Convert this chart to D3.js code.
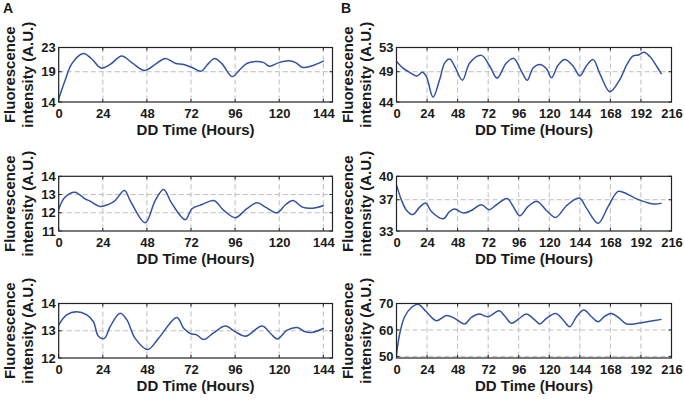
<!DOCTYPE html>
<html><head><meta charset="utf-8">
<script src="https://cdn.jsdelivr.net/npm/d3@7"></script>
<style>html,body{margin:0;padding:0;background:#fff}svg{display:block}</style>
</head><body>
<svg id="c" width="685" height="403"></svg>
<script>
// ---- data ----
const hoursA1 = [0,3.4,7.1,13.4,18,23.1,28,34.3,39.8,46.7,52.5,58,63.4,68,72.5,77.6,81.3,84.9,88.9,94.4,98.9,102.6,108,111.6,114.7,119.8,125.3,128.9,132.9,138,144.3];
const valuesA1 = [14.5,17.5,20.3,22.0,21.1,19.6,20.2,21.6,20.5,19.2,20.2,21.2,20.4,20.2,19.7,19.1,20.3,21.2,20.3,18.2,19.45,20.4,20.7,20.5,19.9,20.5,20.8,20.5,19.7,20.0,20.8];

const hoursA2 = [0,3.4,8.9,14.3,17.1,22.5,28,30.7,35.8,38.9,47.1,52.5,57.1,61.6,68.9,72.5,78,84.4,89.8,96.2,101.6,108,112.5,118.9,123.4,127.5,132.6,138,144.3];
const valuesA2 = [12.2,12.85,13.13,12.76,12.64,12.35,12.5,12.67,13.22,12.67,11.45,12.67,13.27,12.5,11.62,12.22,12.45,12.67,12.13,11.73,12.16,12.55,12.31,12.0,12.44,12.67,12.31,12.25,12.4];

const hoursA3 = [0,4.3,9.8,15.3,18.9,21.6,24.9,28,33.4,37.1,41.6,48.5,54.3,64.3,68,71.6,75.3,78.9,84.4,90.7,96.2,101.6,110.7,115.3,118.9,124.3,129.8,134.3,138,144.3];
const valuesA3 = [13.21,13.58,13.7,13.58,13.33,12.8,12.72,13.15,13.64,13.4,12.72,12.31,12.72,13.49,13.09,12.9,12.84,12.68,12.93,13.17,12.96,12.8,13.17,12.9,12.7,13.02,13.12,12.96,12.94,13.09];

const hoursB1 = [0,5.1,10.3,16.1,20.3,23.5,28.7,33.9,37.9,41.8,45.7,51.8,57.5,66.7,73.3,79,86.3,92.1,98.1,102.6,107.3,112.5,117.8,121.7,127,132.2,138.8,144,149.2,154.5,159.7,167.6,175.4,180.7,185.9,189.9,194.3,199,204.3,208.2];
const valuesB1 = [50.7,49.6,48.9,48.3,48.9,48.2,44.8,47.7,50.45,51.1,49.9,47.6,50.45,51.7,49.9,47.95,50.45,51.2,49.1,47.6,49.6,50.2,49.5,48.0,50.1,51.0,49.9,48.3,50.0,51.0,48.7,45.7,47.7,50.1,51.6,51.75,52.2,51.5,49.9,48.6];

const hoursB2 = [0,3.8,7.7,12.9,18.2,22.9,27.4,36.6,41.8,45.7,52.8,58.8,66.7,72.7,78.5,86.9,91.6,96.8,103.4,110.5,117.8,125.1,133.5,143.5,149.2,158.4,166.3,174.1,180.7,187.2,196.4,203,208.2];
const valuesB2 = [38.9,37.0,35.7,35.1,36.06,36.57,35.5,34.56,35.5,35.8,35.29,35.63,36.36,35.72,36.36,37.17,36.15,34.95,36.15,36.79,35.63,34.74,36.23,37.21,35.93,34.0,36.15,38.07,37.77,37.21,36.66,36.44,36.57];

const hoursB3 = [0,2.6,6.4,11.7,16.9,23.5,31.3,39.2,45.7,53.6,58.8,64.9,71.9,80.6,85,90.3,95.5,102.1,107.3,112.6,117.8,125.1,130.9,136.1,141.4,147.2,153.2,158.4,163.7,168.9,174.2,180.7,189.9,199.1,208.2];
const valuesB3 = [50.6,58.75,65.0,68.5,69.75,66.9,63.5,65.5,64.4,62.25,64.75,66.0,65.0,67.25,65.25,62.5,64.0,66.0,64.4,62.25,64.4,66.25,63.75,61.25,65.0,67.5,65.0,63.1,65.25,66.25,64.75,62.25,62.5,63.25,64.0];

const xTicksA = [0,24,48,72,96,120,144];
const xTicksB = [0,24,48,72,96,120,144,168,192,216];
const yTicksA1 = [14,19,23], yTicksA2 = [11,12,13,14], yTicksA3 = [12,13,14];
const yTicksB1 = [44,49,53], yTicksB2 = [33,37,40], yTicksB3 = [50,60,70];
const xLabel = "DD Time (Hours)";
const yLabel = ["Fluorescence", "intensity (A.U.)"];
const panelLetters = ["A", "B"];

// ---- layout ----
const svg = d3.select("#c");
const font = "'Liberation Sans', Arial, Helvetica, sans-serif";
const colA = {l: 58.7, r: 332.5, xmax: 149, xt: xTicksA};
const colB = {l: 396.5, r: 671.5, xmax: 216, xt: xTicksB};
const rows = [{t: 47.5, b: 102}, {t: 176.3, b: 231}, {t: 303.5, b: 358}];

const panels = [
  {col: colA, row: rows[0], h: hoursA1, v: valuesA1, yd: [14,23], yt: yTicksA1},
  {col: colA, row: rows[1], h: hoursA2, v: valuesA2, yd: [11,14], yt: yTicksA2},
  {col: colA, row: rows[2], h: hoursA3, v: valuesA3, yd: [12,14], yt: yTicksA3},
  {col: colB, row: rows[0], h: hoursB1, v: valuesB1, yd: [44,53], yt: yTicksB1},
  {col: colB, row: rows[1], h: hoursB2, v: valuesB2, yd: [33,40], yt: yTicksB2},
  {col: colB, row: rows[2], h: hoursB3, v: valuesB3, yd: [49.4,70], yt: yTicksB3},
];

const defs = svg.append("defs");
panels.forEach((p, i) => {
  const x = d3.scaleLinear().domain([0, p.col.xmax]).range([p.col.l, p.col.r]);
  const y = d3.scaleLinear().domain(p.yd).range([p.row.b, p.row.t]);
  const g = svg.append("g");
  const id = "clip" + i;
  defs.append("clipPath").attr("id", id).append("rect")
    .attr("x", p.col.l).attr("y", p.row.t).attr("width", p.col.r - p.col.l).attr("height", p.row.b - p.row.t);

  // grid
  g.selectAll(".gx").data(p.col.xt.filter(d => d > 0)).join("line")
    .attr("x1", d => x(d)).attr("x2", d => x(d)).attr("y1", p.row.t).attr("y2", p.row.b)
    .attr("stroke", "#bdbdbd").attr("stroke-width", 1).attr("stroke-dasharray", "5,3");
  g.selectAll(".gy").data(p.yt.filter(d => y(d) > p.row.t + 1 && y(d) < p.row.b - 0.5)).join("line")
    .attr("x1", p.col.l).attr("x2", p.col.r).attr("y1", d => y(d)).attr("y2", d => y(d))
    .attr("stroke", "#bdbdbd").attr("stroke-width", 1).attr("stroke-dasharray", "5,3");

  // line
  const pts = p.h.map((h, k) => [h, p.v[k]]);
  g.append("path").datum(pts)
    .attr("clip-path", `url(#${id})`)
    .attr("d", d3.line().x(d => x(d[0])).y(d => y(d[1])).curve(d3.curveCatmullRom.alpha(0.5)))
    .attr("fill", "none").attr("stroke", "#3352a3").attr("stroke-width", 1.5);

  // axes (inward ticks, MATLAB style box)
  const tk = 3;
  const ax = d3.axisBottom(x).tickValues(p.col.xt).tickSize(0).tickPadding(0).tickFormat(d3.format("d"));
  const xa = g.append("g").attr("transform", `translate(0,${p.row.b})`).call(ax);
  xa.select(".domain").remove();
  xa.selectAll("text").attr("dy", null).attr("y", 15.5)
    .attr("font-family", font).attr("font-weight", "bold").attr("font-size", 13).attr("fill", "#1a1a1a");
  const ay = d3.axisLeft(y).tickValues(p.yt).tickSize(0).tickPadding(3).tickFormat(d3.format("d"));
  const ya = g.append("g").attr("transform", `translate(${p.col.l},0)`).call(ay);
  ya.select(".domain").remove();
  ya.selectAll("text").attr("font-family", font).attr("font-weight", "bold").attr("font-size", 13).attr("fill", "#1a1a1a");

  // inward tick marks
  g.selectAll(".tb").data(p.col.xt).join("line")
    .attr("x1", d => x(d)).attr("x2", d => x(d)).attr("y1", p.row.b).attr("y2", p.row.b - tk)
    .attr("stroke", "#222");
  g.selectAll(".tt").data(p.col.xt).join("line")
    .attr("x1", d => x(d)).attr("x2", d => x(d)).attr("y1", p.row.t).attr("y2", p.row.t + tk)
    .attr("stroke", "#222");
  g.selectAll(".tl").data(p.yt).join("line")
    .attr("x1", p.col.l).attr("x2", p.col.l + tk).attr("y1", d => y(d)).attr("y2", d => y(d))
    .attr("stroke", "#222");
  g.selectAll(".tr").data(p.yt).join("line")
    .attr("x1", p.col.r).attr("x2", p.col.r - tk).attr("y1", d => y(d)).attr("y2", d => y(d))
    .attr("stroke", "#222");

  // frame
  g.append("rect").attr("x", p.col.l).attr("y", p.row.t)
    .attr("width", p.col.r - p.col.l).attr("height", p.row.b - p.row.t)
    .attr("fill", "none").attr("stroke", "#222").attr("stroke-width", 1.2);

  // x label
  g.append("text").attr("x", (p.col.l + p.col.r) / 2).attr("y", p.row.b + 33)
    .attr("text-anchor", "middle").attr("font-family", font).attr("font-weight", "bold")
    .attr("font-size", 15).attr("fill", "#1a1a1a").text(xLabel);

  // y label (two lines)
  const cy = (p.row.t + p.row.b) / 2;
  const bx = p.col.l - 44;
  yLabel.forEach((t, k) => {
    const lx = bx + k * 18;
    g.append("text").attr("transform", `translate(${lx},${cy}) rotate(-90)`)
      .attr("text-anchor", "middle").attr("font-family", font).attr("font-weight", "bold")
      .attr("font-size", 15).attr("fill", "#1a1a1a").text(t);
  });
});

// panel letters
svg.append("text").attr("x", 3).attr("y", 13).attr("font-family", font).attr("font-weight", "bold")
  .attr("font-size", 14).attr("fill", "#1a1a1a").text(panelLetters[0]);
svg.append("text").attr("x", 341).attr("y", 13).attr("font-family", font).attr("font-weight", "bold")
  .attr("font-size", 14).attr("fill", "#1a1a1a").text(panelLetters[1]);
</script>
</body></html>
